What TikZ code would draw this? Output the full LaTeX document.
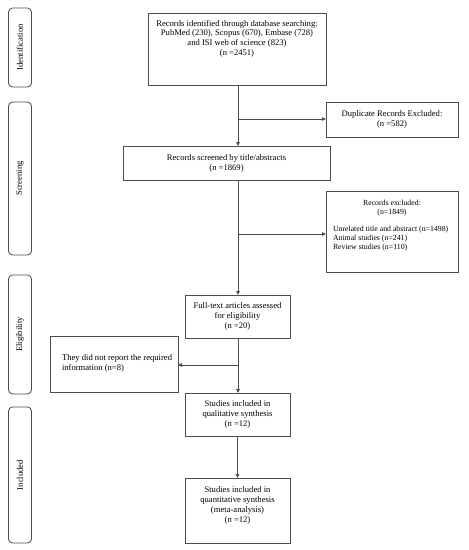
\documentclass[tikz,border=0pt]{standalone}
\usepackage{fontspec}
\setmainfont{Liberation Serif}
\usetikzlibrary{arrows.meta}
\begin{document}
\begin{tikzpicture}[x=1pt,y=-1pt,
  every node/.style={font=\fontsize{8.6}{9.9}\selectfont, inner sep=0pt, outer sep=0pt},
  small/.style={font=\fontsize{7.8}{9}\selectfont},
  boxn/.style={draw=black!70, line width=0.8pt, rectangle},
  phase/.style={draw=black!70, line width=0.8pt, rounded corners=4pt},
  conn/.style={draw=black!70, line width=0.8pt},
  arr/.style={conn, -{Triangle[length=4pt,width=3.5pt]}}
]
\useasboundingbox (0,0) rectangle (469,550);
% phase boxes
\node[phase, minimum width=23pt, minimum height=79pt] (pid) at (20,47.5) {};
\node[rotate=90] (tid) at (pid.center) {Identification};
\node[phase, minimum width=23pt, minimum height=153pt] (psc) at (20,178.5) {};
\node[rotate=90] (tsc) at (psc.center) {Screening};
\node[phase, minimum width=23pt, minimum height=119pt] (pel) at (20,334.5) {};
\node[rotate=90] (tel) at (pel.center) {Eligibility};
\node[phase, minimum width=23pt, minimum height=136pt] (pin) at (20,475) {};
\node[rotate=90] (tin) at (pin.center) {Included};
% boxes
\node[boxn, minimum width=178pt, minimum height=72pt] (b1) at (237,49) {};
\node[align=center, anchor=north] (t1) at (237,20) {Records identified through database searching:\\PubMed (230), Scopus (670), Embase (728)\\and ISI web of science (823)\\(n =2451)};
\node[boxn, minimum width=132pt, minimum height=35pt, align=center] (dup) at (392,119.5) {Duplicate Records Excluded:\\(n =582)};
\node[boxn, minimum width=207pt, minimum height=34pt, align=center] (scr) at (226.5,163) {Records screened by title/abstracts\\(n =1869)};
\node[boxn, minimum width=132pt, minimum height=81pt] (exc) at (392,231.5) {};
\node[small, align=center, anchor=north] (te1) at (392,200) {Records excluded:\\(n=1849)};
\node[small, align=left, anchor=north west] (te2) at (333,226) {Unrelated title and abstract (n=1498)\\Animal studies (n=241)\\Review studies (n=110)};
\node[boxn, minimum width=105pt, minimum height=43pt, align=center] (ft) at (237.5,316.5) {Full-text articles assessed\\for eligibility\\(n =20)};
\node[boxn, minimum width=128pt, minimum height=56pt] (rep) at (114,364) {};
\node[align=left, anchor=west] (trep) at (62,363) {They did not report the required\\information (n=8)};
\node[boxn, minimum width=105pt, minimum height=43pt, align=center] (ql) at (237.5,414.5) {Studies included in\\qualitative synthesis\\(n =12)};
\node[boxn, minimum width=105pt, minimum height=65pt] (qn) at (237.5,510.5) {};
\node[align=center, anchor=north] (tqn) at (237.5,486.5) {Studies included in\\quantitative synthesis\\(meta-analysis)\\(n =12)};
% connectors
\coordinate (j1) at (238,119);
\coordinate (j2) at (238,234);
\coordinate (j3) at (238,365);
\draw[arr] (b1.south -| j1) -- (scr.north -| j1);
\draw[arr] (j1) -- (dup.west |- j1);
\draw[arr] (scr.south -| j2) -- (ft.north -| j2);
\draw[arr] (j2) -- (exc.west |- j2);
\draw[arr] (ft.south -| j3) -- (ql.north -| j3);
\draw[arr] (j3) -- (rep.east |- j3);
\draw[arr] (ql.south) -- (qn.north);
\end{tikzpicture}
\end{document}
